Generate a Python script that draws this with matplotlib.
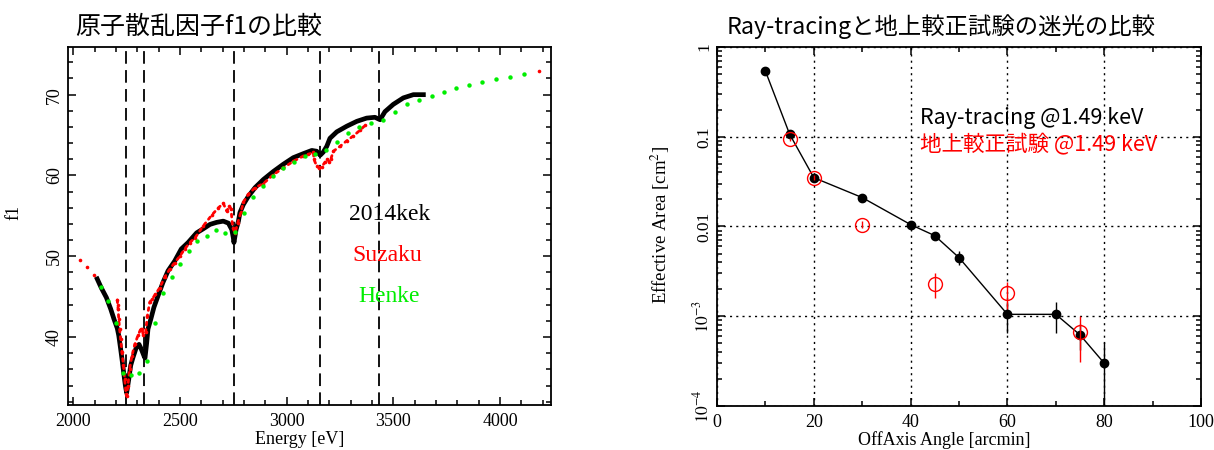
import numpy as np
import matplotlib
matplotlib.use("Agg")
import matplotlib.pyplot as plt
from matplotlib.ticker import MultipleLocator, FixedLocator, FixedFormatter, LogLocator, NullFormatter

plt.rcParams['font.family'] = ['Liberation Serif', 'DejaVu Serif']
plt.rcParams['mathtext.fontset'] = 'stix'

# 原子散乱因子 f1 (左)
kek_E = [2112, 2131, 2155, 2175, 2191, 2206, 2213, 2222, 2230, 2238, 2244, 2250, 2260, 2269,
         2280, 2295, 2308, 2319, 2331, 2336, 2344, 2350, 2363, 2378, 2397, 2420, 2444, 2475,
         2506, 2538, 2578, 2609, 2641, 2672, 2703, 2727, 2743, 2750, 2753, 2763, 2774, 2781,
         2797, 2820, 2852, 2891, 2938, 2985, 3031, 3078, 3118, 3141, 3157, 3172, 3188, 3203,
         3235, 3282, 3329, 3375, 3414, 3438, 3461, 3500, 3547, 3594, 3641]
kek_f1 = [47.2, 46.1, 44.9, 43.5, 42.2, 41.1, 40.2, 38.5, 36.9, 35.2, 34.0, 33.1, 34.8, 36.5,
          37.5, 38.7, 39.1, 38.5, 37.7, 37.4, 39.3, 41.0, 42.2, 43.7, 45.1, 46.75, 48.2, 49.4,
          50.9, 51.7, 52.9, 53.4, 53.95, 54.2, 54.35, 54.1, 53.3, 52.3, 51.7, 53.3, 54.35, 55.4,
          56.4, 57.4, 58.5, 59.5, 60.5, 61.4, 62.2, 62.7, 63.1, 63.0, 62.5, 62.9, 63.6, 64.6,
          65.4, 66.1, 66.7, 67.1, 67.2, 66.9, 67.9, 68.8, 69.6, 70.0, 70.0]

suz_E = [2030, 2064, 2096, 2206, 2208, 2210, 2213, 2217, 2222, 2228, 2235, 2241, 2247, 2250,
         2256, 2264, 2275, 2288, 2303, 2316, 2322, 2328, 2339, 2347, 2358, 2369, 2385, 2405,
         2428, 2452, 2475, 2499, 2522, 2546, 2571, 2609, 2649, 2680, 2703, 2719, 2731, 2739,
         2747, 2758, 2771, 2786, 2797, 2820, 2852, 2891, 2938, 2985, 3031, 3078, 3102, 3125,
         3128, 3141, 3153, 3165, 3180, 3191, 3200, 3208, 3219, 3250, 3282, 3313, 3344, 3368,
         4185]
suz_f1 = [49.55, 48.7, 47.65, 44.6, 44.0, 43.5, 42.2, 41.0, 39.75, 38.1, 36.5, 34.8, 33.0, 32.7,
          34.0, 36.05, 37.7, 39.1, 40.2, 41.0, 41.0, 40.25, 40.6, 42.6, 44.3, 44.7, 45.3, 46.1,
          47.4, 48.4, 49.2, 50.0, 50.9, 51.7, 52.3, 53.75, 55.1, 56.0, 56.55, 55.6, 56.2, 55.9,
          53.55, 52.9, 54.15, 55.5, 56.7, 57.65, 58.5, 59.0, 60.1, 60.95, 61.75, 62.4, 62.6, 62.9,
          62.0, 61.15, 60.95, 61.1, 61.65, 62.05, 61.65, 62.1, 63.0, 63.6, 64.3, 64.9, 65.6, 66.2,
          72.9]

henke_E = [2131, 2163, 2199, 2235, 2272, 2308, 2346, 2385, 2422, 2463, 2502, 2541, 2580, 2625,
           2668, 2711, 2757, 2800, 2844, 2891, 2938, 2985, 3035, 3084, 3133, 3185, 3235, 3289,
           3341, 3396, 3450, 3508, 3563, 3621, 3680, 3739, 3795, 3855, 3916, 3980, 4046, 4112]
henke_f1 = [46.25, 44.5, 41.7, 35.6, 35.35, 35.55, 37.1, 41.8, 45.4, 47.45, 49.1, 50.7, 51.9, 52.5,
            53.25, 52.9, 52.95, 55.3, 57.35, 58.65, 59.9, 60.9, 61.7, 62.4, 62.7, 63.1, 64.2, 65.3,
            66.0, 66.5, 66.9, 67.9, 68.85, 69.35, 69.85, 70.3, 70.8, 71.15, 71.55, 71.9, 72.2, 72.55]

edges = [2248, 2332, 2752, 3157, 3433]

# 迷光の比較 (右)
ray_x = [10, 15, 20, 30, 40, 45, 50, 60, 70, 75, 80]
ray_y = [0.54, 0.107, 0.035, 0.021, 0.0105, 0.0079, 0.0045, 0.00105, 0.00105, 0.00062, 0.0003]
ray_err = [0, 0.004, 0.002, 0.001, 0.0005, 0.0005, 0.0008, 0.0004, 0.0004, 0.0002, 0.00022]

gnd_x = [15, 20, 30, 45, 60, 75]
gnd_y = [0.094, 0.035, 0.0105, 0.0023, 0.0018, 0.00066]
gnd_err = [0.004, 0.002, 0.001, 0.0007, 0.0006, 0.00035]

fig = plt.figure(figsize=(12.14, 4.5), dpi=100)
ax1 = fig.add_axes([0.056, 0.1, 0.398, 0.7956])
ax2 = fig.add_axes([0.5906, 0.0978, 0.3987, 0.7978])

jp = ['Noto Sans CJK JP', 'DejaVu Sans']

# --- 左 ---
for e in edges:
    ax1.axvline(e, color='black', lw=1.3, linestyle=(0, (7, 3.5)), zorder=1)
ax1.plot(kek_E, kek_f1, color='black', lw=3.4, zorder=2, solid_joinstyle='round')
ax1.plot(suz_E, suz_f1, 'o', color='red', ms=2.6, mec='none', zorder=3)
ax1.plot(suz_E[3:-1], suz_f1[3:-1], ':', color='red', lw=2.0, dash_capstyle='round', zorder=3)
ax1.plot(henke_E, henke_f1, 'o', color='#00ee00', ms=3.2, mec='none', zorder=4)

ax1.set_xlim(1975, 4240)
ax1.set_ylim(31.6, 75.9)
ax1.xaxis.set_major_locator(MultipleLocator(500))
ax1.xaxis.set_minor_locator(MultipleLocator(100))
ax1.yaxis.set_major_locator(MultipleLocator(10))
ax1.yaxis.set_minor_locator(MultipleLocator(2))
ax1.tick_params(which='both', direction='in', top=True, right=True, width=1.1)
ax1.tick_params(which='major', length=6)
ax1.tick_params(which='minor', length=3.5)
ax1.tick_params(axis='x', labelsize=13, pad=6)
ax1.tick_params(axis='y', labelsize=13, labelrotation=90)
for lab in ax1.get_yticklabels():
    lab.set_va('center')
for s in ax1.spines.values():
    s.set_linewidth(1.3)
ax1.set_xlabel('Energy [eV]', fontsize=13)
ax1.xaxis.set_label_coords(0.48, -0.072)
ax1.set_ylabel('f1', fontsize=13)
ax1.yaxis.set_label_coords(-0.095, 0.539)

ax1.text(3485, 55.2, '2014kek', color='black', fontsize=17, ha='center', va='center')
ax1.text(3470, 50.1, 'Suzaku', color='red', fontsize=17, ha='center', va='center')
ax1.text(3480, 45.05, 'Henke', color='#00ee00', fontsize=17, ha='center', va='center')

fig.text(75 / 1214, 1 - 27 / 450, '原子散乱因子f1の比較', family=jp, fontsize=18,
         ha='left', va='center')

# --- 右 ---
ax2.errorbar(ray_x, ray_y, yerr=ray_err, fmt='-o', color='black', ms=6, lw=1, elinewidth=1,
             capsize=0, zorder=3)
ax2.errorbar(gnd_x, gnd_y, yerr=gnd_err, fmt='o', color='red', mfc='none', ms=10, mew=1,
             elinewidth=1, capsize=0, zorder=4)
ax2.set_yscale('log')
ax2.set_xlim(0, 100)
ax2.set_ylim(1e-4, 1)
ax2.xaxis.set_major_locator(MultipleLocator(20))
ax2.xaxis.set_minor_locator(MultipleLocator(10))
ax2.yaxis.set_major_locator(FixedLocator([1e-4, 1e-3, 1e-2, 0.1, 1]))
ax2.yaxis.set_major_formatter(FixedFormatter(['$10^{-4}$', '$10^{-3}$', '0.01', '0.1', '1']))
ax2.yaxis.set_minor_locator(LogLocator(base=10, subs=np.arange(2, 10), numticks=20))
ax2.yaxis.set_minor_formatter(NullFormatter())
ax2.grid(True, which='major', color='black', linestyle=(0, (1.5, 3)), lw=1)
ax2.tick_params(which='both', direction='in', top=True, right=True, width=1.1)
ax2.tick_params(which='major', length=6)
ax2.tick_params(which='minor', length=3.5)
ax2.tick_params(axis='x', labelsize=13, pad=6)
ax2.tick_params(axis='y', labelsize=12.5, labelrotation=90)
for lab in ax2.get_yticklabels():
    lab.set_va('center')
for s in ax2.spines.values():
    s.set_linewidth(1.3)
ax2.set_xlabel('OffAxis Angle [arcmin]', fontsize=13)
ax2.xaxis.set_label_coords(0.47, -0.07)
ax2.set_ylabel('Effective Area [cm$^2$]', fontsize=13.5)
ax2.yaxis.set_label_coords(-0.093, 0.504)

ax2.text(41.9, 0.162, 'Ray-tracing @1.49 keV', color='black', family=jp, fontsize=15.5,
         ha='left', va='center')
ax2.text(41.9, 0.081, '地上較正試験 @1.49 keV', color='red', family=jp, fontsize=15.5,
         ha='left', va='center')

fig.text(727 / 1214, 1 - 27 / 450, 'Ray-tracingと地上較正試験の迷光の比較', family=jp, fontsize=16.8,
         ha='left', va='center')

fig.savefig('out.png', dpi=100)
